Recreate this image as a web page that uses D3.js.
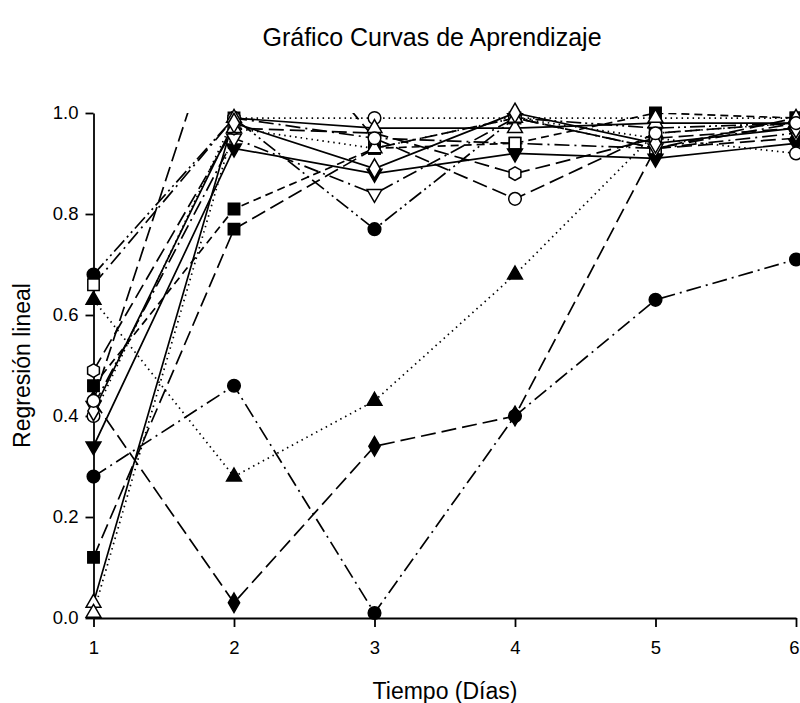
<!DOCTYPE html>
<html>
<head>
<meta charset="utf-8">
<script src="https://cdn.jsdelivr.net/npm/d3@7"></script>
<style>
  html, body { margin: 0; padding: 0; background: #fff; }
  svg { display: block; }
  text { font-family: "Liberation Sans", Arial, sans-serif; fill: #000; }
</style>
</head>
<body>
<svg id="chart" width="800" height="703"></svg>
<script>
// Days of measurement and axis ticks
const days = [1, 2, 3, 4, 5, 6];
const yTicks = [0.0, 0.2, 0.4, 0.6, 0.8, 1.0];

// Linear-regression learning scores per subject, one array per subject
const s01 = [0.28, 0.46, 0.01, 0.40, 0.63, 0.71];
const s02 = [0.43, 0.03, 0.34, 0.40, 0.93, 0.95];
const s03 = [0.63, 0.28, 0.43, 0.68, 0.96, 0.98];
const s04 = [0.68, 0.99, 0.77, 0.99, 0.97, 0.98];
const s05 = [0.46, 0.81, 0.93, 0.94, 1.00, 0.99];
const s06 = [0.12, 0.77, 0.93, 0.99, 0.93, 0.99];
const s07 = [0.66, 0.99, 0.95, 0.94, 0.93, 0.98];
const s08 = [0.34, 0.93, 0.88, 0.92, 0.91, 0.94];
const s09 = [0.42, 0.95, 0.84, 0.99, 0.93, 0.96];
const s10 = [0.40, 0.99, 0.99, 0.99, 0.95, 0.92];
const s11 = [0.49, 0.97, 0.96, 0.88, 0.95, 0.97];
const s12 = [0.03, 0.99, 0.97, 0.97, 0.98, 0.98];
const s13 = [0.01, 0.97, 0.93, 0.99, 0.99, 0.99];
const s14 = [0.41, 0.98, 0.89, 1.00, 0.94, 0.97];
const s15 = [0.43, 1.28, 0.95, 0.83, 0.96, 0.98];

// Symbol and line style for each subject
const dashes = {
  solid: null,
  longdash: "15,6",
  shortdash: "8,5",
  dashdot: "15,5,2,5",
  dashdotdot: "15,4,2,4,2,4",
  dotted: "1.5,4"
};
const series = [
  { values: s01, symbol: "circle",  filled: true,  line: "dashdot" },
  { values: s02, symbol: "diamond", filled: true,  line: "longdash" },
  { values: s03, symbol: "triUp",   filled: true,  line: "dotted" },
  { values: s04, symbol: "circle",  filled: true,  line: "dashdotdot" },
  { values: s05, symbol: "square",  filled: true,  line: "shortdash" },
  { values: s06, symbol: "square",  filled: true,  line: "longdash" },
  { values: s07, symbol: "square",  filled: false, line: "dashdot" },
  { values: s08, symbol: "triDown", filled: true,  line: "solid" },
  { values: s09, symbol: "triDown", filled: false, line: "dashdot" },
  { values: s10, symbol: "circle",  filled: false, line: "dotted" },
  { values: s11, symbol: "hexagon", filled: false, line: "longdash" },
  { values: s12, symbol: "triUp",   filled: false, line: "solid" },
  { values: s13, symbol: "triUp",   filled: false, line: "dotted" },
  { values: s14, symbol: "diamond", filled: false, line: "solid" },
  { values: s15, symbol: "circle",  filled: false, line: "longdash" }
];

const svg = d3.select("#chart");
const x = d3.scaleLinear().domain([1, 6]).range([93.5, 796]);
const y = d3.scaleLinear().domain([0, 1]).range([618, 113]);

// Plot-area clip so values above 1.0 run off the top edge
svg.append("defs").append("clipPath").attr("id", "plotClip")
  .append("rect").attr("x", x(1)).attr("y", y(1))
  .attr("width", x(6) - x(1)).attr("height", y(0) - y(1));

// Title
svg.append("text")
  .attr("x", 432).attr("y", 46)
  .attr("text-anchor", "middle")
  .style("font-size", "25px")
  .text("Gráfico Curvas de Aprendizaje");

// Axes
const yAxis = d3.axisLeft(y).tickValues(yTicks).tickFormat(d3.format(".1f"))
  .tickSize(8).tickPadding(7).tickSizeOuter(0);
const xAxis = d3.axisBottom(x).tickValues(days).tickFormat(d3.format("d"))
  .tickSize(9).tickPadding(14).tickSizeOuter(0);

const gy = svg.append("g").attr("transform", `translate(${x(1)},0)`).call(yAxis);
const gx = svg.append("g").attr("transform", `translate(0,${y(0)})`).call(xAxis);
[gx, gy].forEach(g => {
  g.select(".domain").attr("stroke", "#000").attr("stroke-width", 1.8);
  g.selectAll(".tick line").attr("stroke", "#000").attr("stroke-width", 1.8);
  g.selectAll(".tick text").style("font-size", "18.5px")
    .style("font-family", "'Liberation Sans', Arial, sans-serif").attr("fill", "#000");
});
// Last day label sits at the right edge; keep it inside the canvas
gx.selectAll(".tick").filter(d => d === 6).select("text")
  .attr("text-anchor", "end").attr("x", 3);

// Axis titles
svg.append("text")
  .attr("transform", `translate(30,${(y(0) + y(1)) / 2}) rotate(-90)`)
  .attr("text-anchor", "middle")
  .style("font-size", "23px")
  .text("Regresión lineal");
svg.append("text")
  .attr("x", 445).attr("y", 699)
  .attr("text-anchor", "middle")
  .style("font-size", "23px")
  .text("Tiempo (Días)");

// Lines
const line = d3.line().x((d, i) => x(days[i])).y(d => y(d));
svg.append("g").attr("clip-path", "url(#plotClip)")
  .selectAll("path").data(series).join("path")
  .attr("d", s => line(s.values))
  .attr("fill", "none")
  .attr("stroke", "#000")
  .attr("stroke-width", 1.7)
  .attr("stroke-dasharray", s => dashes[s.line]);

// Marker shapes
function hexagonPath(r) {
  const pts = d3.range(6).map(k => {
    const a = Math.PI / 6 + k * Math.PI / 3;
    return [r * Math.cos(a), r * Math.sin(a)];
  });
  return "M" + pts.map(p => p.join(",")).join("L") + "Z";
}
function markerPath(kind) {
  switch (kind) {
    case "circle":  return d3.symbol(d3.symbolCircle, 125)();
    case "square":  return d3.symbol(d3.symbolSquare, 130)();
    case "diamond": return d3.symbol(d3.symbolDiamond, 110)();
    case "triUp":
    case "triDown": return d3.symbol(d3.symbolTriangle, 95)();
    case "hexagon": return hexagonPath(6.8);
  }
}

const markers = svg.append("g");
series.forEach(s => {
  markers.append("g").selectAll("path")
    .data(s.values.map((v, i) => ({ day: days[i], v })).filter(d => d.v <= 1.0))
    .join("path")
    .attr("d", markerPath(s.symbol))
    .attr("transform", d => `translate(${x(d.day)},${y(d.v)})` + (s.symbol === "triDown" ? " rotate(180)" : ""))
    .attr("fill", s.filled ? "#000" : "#fff")
    .attr("stroke", "#000")
    .attr("stroke-width", 1.5);
});
</script>
</body>
</html>
